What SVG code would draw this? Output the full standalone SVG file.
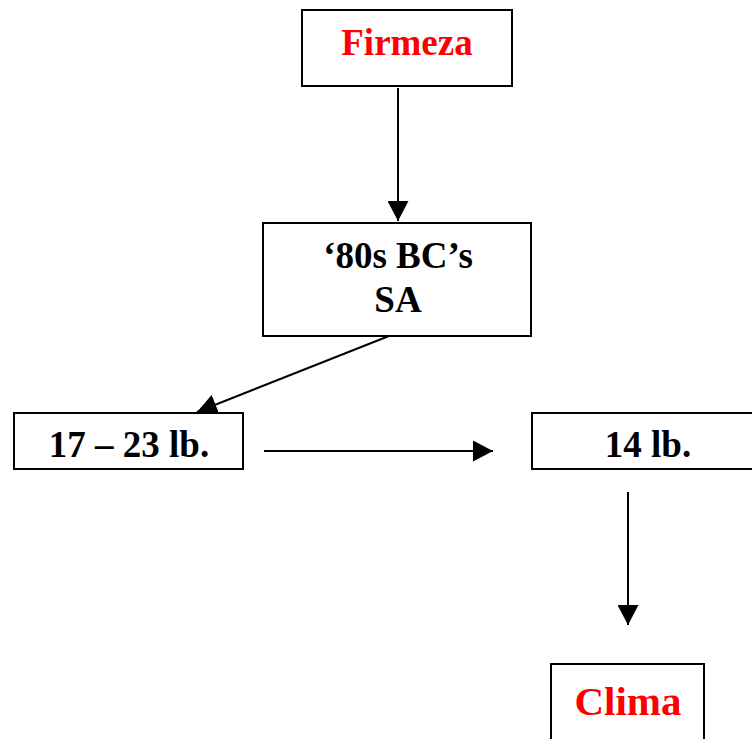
<svg xmlns="http://www.w3.org/2000/svg" width="752" height="739" viewBox="0 0 752 739">
  <defs>
    <style>
      .box { fill: #ffffff; stroke: #000000; stroke-width: 2; }
      .lbl { font-family: "Liberation Serif", "Times New Roman", serif; font-weight: bold; font-size: 37px; text-anchor: middle; fill: #000000; }
      .red { fill: #ff0000; }
      .big { font-size: 41px; }
      .link { stroke: #000000; stroke-width: 2; fill: none; }
    </style>
    <marker id="arrow" markerWidth="20" markerHeight="21" refX="20" refY="10.5" orient="auto" markerUnits="userSpaceOnUse">
      <path d="M0,0 L20,10.5 L0,21 Z" fill="#000000"/>
    </marker>
  </defs>

  <rect width="752" height="739" fill="#ffffff"/>

  <!-- arrows between the boxes -->
  <g id="connectors">
    <line class="link" x1="398" y1="88" x2="398" y2="221" marker-end="url(#arrow)"/>
    <line class="link" x1="389" y1="336" x2="197" y2="412" marker-end="url(#arrow)"/>
    <line class="link" x1="264" y1="451" x2="493" y2="451" marker-end="url(#arrow)"/>
    <line class="link" x1="628" y1="492" x2="628" y2="625" marker-end="url(#arrow)"/>
  </g>

  <g id="node-firmeza">
    <rect class="box" x="302" y="10" width="210" height="76"/>
    <text class="lbl red" x="407" y="55">Firmeza</text>
  </g>

  <g id="node-80s">
    <rect class="box" x="263" y="223" width="268" height="113"/>
    <text class="lbl" x="398" y="268">‘80s BC’s</text>
    <text class="lbl" x="398" y="312">SA</text>
  </g>

  <g id="node-17-23">
    <rect class="box" x="14" y="413" width="229" height="56"/>
    <text class="lbl" x="129" y="457">17 – 23 lb.</text>
  </g>

  <g id="node-14">
    <rect class="box" x="532" y="413" width="232" height="56"/>
    <text class="lbl" x="648" y="457">14 lb.</text>
  </g>

  <g id="node-clima">
    <rect class="box" x="551" y="664" width="153" height="90"/>
    <text class="lbl red big" x="628" y="715">Clima</text>
  </g>
</svg>
